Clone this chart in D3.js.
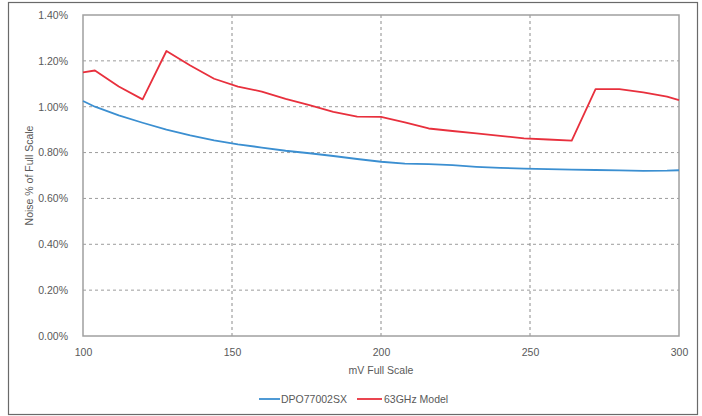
<!DOCTYPE html>
<html>
<head>
<meta charset="utf-8">
<script src="https://cdn.jsdelivr.net/npm/d3@7"></script>
<style>
  body { margin: 0; background: #fff; }
  svg { font-family: "Liberation Sans", Arial, sans-serif; }
</style>
</head>
<body>
<div id="chart"></div>
<script>
// mV full scale sample points
const mvScale = [100, 104, 112, 120, 128, 136, 144, 152, 160, 168, 176, 184, 192, 200,
                 208, 216, 224, 232, 240, 248, 256, 264, 272, 280, 288, 296, 300];
// noise as % of full scale
const dpoNoise = [1.025, 1.0, 0.962, 0.93, 0.9, 0.875, 0.853, 0.836, 0.822, 0.808, 0.797, 0.785, 0.772, 0.76,
                  0.752, 0.750, 0.745, 0.738, 0.733, 0.730, 0.728, 0.726, 0.724, 0.722, 0.720, 0.721, 0.723];
const modelNoise = [1.15, 1.158, 1.088, 1.032, 1.243, 1.18, 1.122, 1.088, 1.066, 1.034, 1.007, 0.978, 0.957, 0.956,
                    0.932, 0.905, 0.894, 0.884, 0.873, 0.862, 0.857, 0.852, 1.077, 1.077, 1.063, 1.044, 1.029];
const xTicks = [100, 150, 200, 250, 300];
const yTicks = [0, 0.2, 0.4, 0.6, 0.8, 1.0, 1.2, 1.4];

const seriesList = [
  { name: "DPO77002SX", values: dpoNoise, color: "#3b8fd1" },
  { name: "63GHz Model", values: modelNoise, color: "#e8303d" }
];

const width = 702, height = 416;
const plot = { left: 83, right: 679, top: 15, bottom: 336 };
const textColor = "#595959";

const svg = d3.select("#chart").append("svg")
  .attr("width", width)
  .attr("height", height);

// outer chart frame
svg.append("rect")
  .attr("x", 8.5).attr("y", 2.5)
  .attr("width", 689).attr("height", 412)
  .attr("fill", "#fff")
  .attr("stroke", "#6a6a6a")
  .attr("stroke-width", 1.2);

const x = d3.scaleLinear().domain([100, 300]).range([plot.left, plot.right]);
const y = d3.scaleLinear().domain([0, 1.4]).range([plot.bottom, plot.top]);

// dashed gridlines
svg.append("g")
  .selectAll("line")
  .data(yTicks.slice(1, -1))
  .join("line")
  .attr("x1", plot.left).attr("x2", plot.right)
  .attr("y1", d => y(d)).attr("y2", d => y(d))
  .attr("stroke", "#9c9c9c")
  .attr("stroke-dasharray", "3,3");

svg.append("g")
  .selectAll("line")
  .data(xTicks.slice(1, -1))
  .join("line")
  .attr("x1", d => x(d)).attr("x2", d => x(d))
  .attr("y1", plot.top).attr("y2", plot.bottom)
  .attr("stroke", "#8c8c8c")
  .attr("stroke-dasharray", "3,3");

// plot area border
svg.append("rect")
  .attr("x", plot.left).attr("y", plot.top)
  .attr("width", plot.right - plot.left)
  .attr("height", plot.bottom - plot.top)
  .attr("fill", "none")
  .attr("stroke", "#a0a0a0")
  .attr("stroke-width", 1.5);

// axes via d3 axis generators, then strip lines
const yAxis = svg.append("g")
  .attr("transform", `translate(${plot.left - 12},0)`)
  .call(d3.axisLeft(y).tickValues(yTicks).tickSize(0).tickFormat(d => d.toFixed(2) + "%"));
yAxis.select(".domain").remove();
yAxis.selectAll("text")
  .attr("fill", textColor)
  .style("font-size", "10.5px");

const xAxis = svg.append("g")
  .attr("transform", `translate(0,${plot.bottom + 10})`)
  .call(d3.axisBottom(x).tickValues(xTicks).tickSize(0));
xAxis.select(".domain").remove();
xAxis.selectAll("text")
  .attr("fill", textColor)
  .style("font-size", "10.5px");

// axis titles
svg.append("text")
  .attr("x", (plot.left + plot.right) / 2)
  .attr("y", 374)
  .attr("text-anchor", "middle")
  .attr("fill", textColor)
  .style("font-size", "10.5px")
  .text("mV Full Scale");

svg.append("text")
  .attr("transform", `translate(33,${(plot.top + plot.bottom) / 2}) rotate(-90)`)
  .attr("text-anchor", "middle")
  .attr("fill", textColor)
  .style("font-size", "10.5px")
  .text("Noise % of Full Scale");

// series lines
const line = d3.line()
  .x((d, i) => x(mvScale[i]))
  .y(d => y(d));

svg.append("g")
  .selectAll("path")
  .data(seriesList)
  .join("path")
  .attr("d", d => line(d.values))
  .attr("fill", "none")
  .attr("stroke", d => d.color)
  .attr("stroke-width", 1.8)
  .attr("stroke-linejoin", "round");

// legend
const legendX = [259, 357];
const legend = svg.append("g")
  .selectAll("g")
  .data(seriesList)
  .join("g")
  .attr("transform", (d, i) => `translate(${legendX[i]},399)`);

legend.append("line")
  .attr("x1", 0).attr("x2", (d, i) => i === 0 ? 21 : 25)
  .attr("y1", 0).attr("y2", 0)
  .attr("stroke", d => d.color)
  .attr("stroke-width", 1.8);

legend.append("text")
  .attr("x", (d, i) => i === 0 ? 22 : 27)
  .attr("y", 4)
  .attr("fill", textColor)
  .style("font-size", "10.5px")
  .text(d => d.name);
</script>
</body>
</html>
